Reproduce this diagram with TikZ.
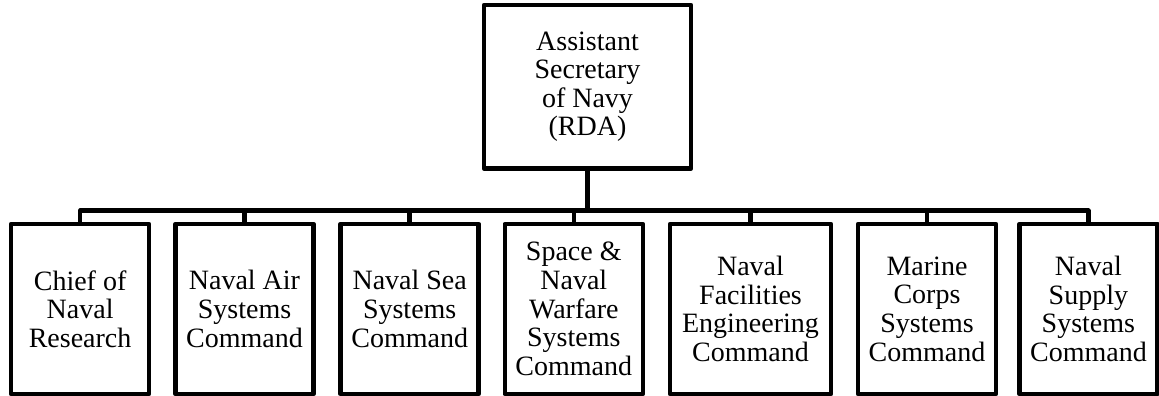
\documentclass[tikz,border=0pt]{standalone}
\usepackage{fontspec}
\setmainfont{Liberation Serif}
\begin{document}
\begin{tikzpicture}[x=1pt,y=-1pt,
  orgbox/.style={draw=black, line width=4.5pt, line join=round, fill=white,
    minimum width=138pt, minimum height=170pt, inner sep=0pt, align=center,
    font=\fontsize{28}{28.6}\selectfont},
  topbox/.style={orgbox, minimum width=207pt, minimum height=163.5pt},
  wide/.style={minimum width=161pt},
  link/.style={line width=4.5pt, line join=round}]
\useasboundingbox (0,0) rectangle (1159,396);
\node[topbox] (asn) at (587.5,86.8) {Assistant\\Secretary\\of Navy\\(RDA)};
\coordinate (bus) at (587.5,210.7);
\node[orgbox] (c1) at (80.1,309) {Chief of\\Naval\\Research};
\node[orgbox] (c2) at (244.5,309) {Naval Air\\Systems\\Command};
\node[orgbox] (c3) at (409.7,309) {Naval Sea\\Systems\\Command};
\node[orgbox] (c4) at (573.8,309) {Space \&\\Naval\\Warfare\\Systems\\Command};
\node[orgbox,wide] (c5) at (750.5,309) {Naval\\Facilities\\Engineering\\Command};
\node[orgbox] (c6) at (927,309) {Marine\\Corps\\Systems\\Command};
\node[orgbox] (c7) at (1088.4,309) {Naval\\Supply\\Systems\\Command};
\draw[link] (asn.south) -- (bus);
\draw[link] (c1.north) -- (c1.north |- bus) -- (c7.north |- bus) -- (c7.north);
\foreach \n in {c2,c3,c4,c5,c6} \draw[link] (\n.north) -- (\n.north |- bus);
\end{tikzpicture}
\end{document}
